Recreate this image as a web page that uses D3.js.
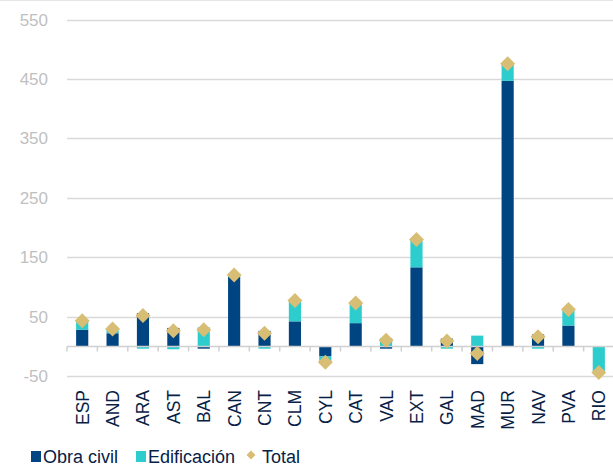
<!DOCTYPE html>
<html>
<head>
<meta charset="utf-8">
<script src="https://cdn.jsdelivr.net/npm/d3@7"></script>
<style>
  body { margin: 0; background: #fff; }
  svg { font-family: "Liberation Sans", Arial, sans-serif; }
</style>
</head>
<body>
<div id="chart"></div>
<script>
// Data
var categories = ["ESP", "AND", "ARA", "AST", "BAL", "CAN", "CNT", "CLM", "CYL", "CAT", "VAL", "EXT", "GAL", "MAD", "MUR", "NAV", "PVA", "RIO"];
var obraCivil   = [28, 22, 56, 31, -4, 117, 26, 42, -17, 39, -4, 133, 13, -30, 447, 20, 35, 0];
var edificacion = [15, 7, -4, -5, 32, 3, -4, 35, -10, 34, 14, 47, -4, 18, 29, -4, 27, -44];
var total       = [43, 29, 52, 26, 28, 120, 22, 77, -27, 73, 10, 180, 9, -12, 476, 16, 62, -44];
var yTicks = [-50, 50, 150, 250, 350, 450, 550];

var svgWidth = 613, svgHeight = 466;
var margin = {top: 20, right: 0, bottom: 90, left: 67};

var svg = d3.select("#chart").append("svg")
    .attr("width", svgWidth)
    .attr("height", svgHeight);

// faint frame line at top
svg.append("line")
    .attr("x1", 0).attr("x2", svgWidth)
    .attr("y1", 0.5).attr("y2", 0.5)
    .attr("stroke", "#e6e6e6");

var x = d3.scaleBand()
    .domain(categories)
    .range([margin.left, 614])
    .paddingInner(0.6)
    .paddingOuter(0.3);

var y = d3.scaleLinear()
    .domain([-50, 550])
    .range([376, 19.7]);

// gridlines
svg.append("g")
    .selectAll("line")
    .data(yTicks)
    .enter()
    .append("line")
        .attr("x1", margin.left)
        .attr("x2", svgWidth)
        .attr("y1", function(d){ return Math.round(y(d)) + 0.5 })
        .attr("y2", function(d){ return Math.round(y(d)) + 0.5 })
        .attr("stroke", "#d9d9d9")
        .attr("stroke-width", 1.5)

// y tick labels
svg.append("g")
    .selectAll("text")
    .data(yTicks)
    .enter()
    .append("text")
        .attr("x", 48)
        .attr("y", function(d){ return y(d) + 6 })
        .attr("text-anchor", "end")
        .attr("font-size", "17px")
        .attr("fill", "#bfbfbf")
        .text(function(d){ return d })

// stacked bars (positive and negative stacked separately)
var rows = categories.map(function(c, i){
    return {cat: c, obra: obraCivil[i], edif: edificacion[i], total: total[i]};
});

function segs(d) {
    var out = [], pos = 0, neg = 0;
    [["obra", d.obra, "#004481"], ["edif", d.edif, "#2dcccd"]].forEach(function(s){
        var v = s[1], y0, y1;
        if (v >= 0) { y0 = pos; y1 = pos + v; pos = y1; }
        else { y0 = neg; y1 = neg + v; neg = y1; }
        out.push({cat: d.cat, y0: y0, y1: y1, color: s[2]});
    });
    return out;
}

var allSegs = [];
rows.forEach(function(d){ allSegs = allSegs.concat(segs(d)); });

svg.append("g")
    .selectAll("rect")
    .data(allSegs)
    .enter()
    .append("rect")
        .attr("x", function(d){ return x(d.cat) })
        .attr("width", x.bandwidth())
        .attr("y", function(d){ return y(Math.max(d.y0, d.y1)) })
        .attr("height", function(d){ return Math.abs(y(d.y0) - y(d.y1)) })
        .attr("fill", function(d){ return d.color })

// zero axis with tick marks
var zeroY = Math.round(y(0)) + 0.5;
svg.append("line")
    .attr("x1", margin.left).attr("x2", svgWidth)
    .attr("y1", zeroY).attr("y2", zeroY)
    .attr("stroke", "#d0d0d0")
    .attr("stroke-width", 1.5)

var step = x.step();
svg.append("g")
    .selectAll("line")
    .data(d3.range(categories.length + 1))
    .enter()
    .append("line")
        .attr("x1", function(i){ return x(categories[0]) - x.paddingOuter() * step + i * step })
        .attr("x2", function(i){ return x(categories[0]) - x.paddingOuter() * step + i * step })
        .attr("y1", zeroY)
        .attr("y2", zeroY + 5)
        .attr("stroke", "#d0d0d0")
        .attr("stroke-width", 1.5)

// Total diamonds
svg.append("g")
    .selectAll("path")
    .data(rows)
    .enter()
    .append("path")
        .attr("d", "M0,-7.5L7.5,0L0,7.5L-7.5,0Z")
        .attr("transform", function(d){ return "translate(" + (x(d.cat) + x.bandwidth() / 2) + "," + y(d.total) + ")" })
        .attr("fill", "#d8be75")

// category labels, rotated
svg.append("g")
    .selectAll("text")
    .data(categories)
    .enter()
    .append("text")
        .attr("transform", function(d){ return "translate(" + (x(d) + x.bandwidth() / 2 + 6.5) + ",390) rotate(-90)" })
        .attr("text-anchor", "end")
        .attr("font-size", "17.5px")
        .attr("fill", "#072146")
        .text(function(d){ return d })

// legend
var legend = [
    {name: "Obra civil", color: "#004481", shape: "square", x: 31},
    {name: "Edificación", color: "#2dcccd", shape: "square", x: 136},
    {name: "Total", color: "#d8be75", shape: "diamond", x: 246}
];
var lg = svg.append("g");
legend.forEach(function(l){
    if (l.shape == "square") {
        lg.append("rect")
            .attr("x", l.x).attr("y", 451)
            .attr("width", 10).attr("height", 11)
            .attr("fill", l.color);
    } else {
        lg.append("path")
            .attr("d", "M0,-4.5L4.5,0L0,4.5L-4.5,0Z")
            .attr("transform", "translate(" + (l.x + 5) + ",455)")
            .attr("fill", l.color);
    }
    lg.append("text")
        .attr("x", l.name == "Total" ? l.x + 16 : l.x + 12)
        .attr("y", 463)
        .attr("font-size", "18px")
        .attr("fill", "#072146")
        .text(l.name);
});
</script>
</body>
</html>
